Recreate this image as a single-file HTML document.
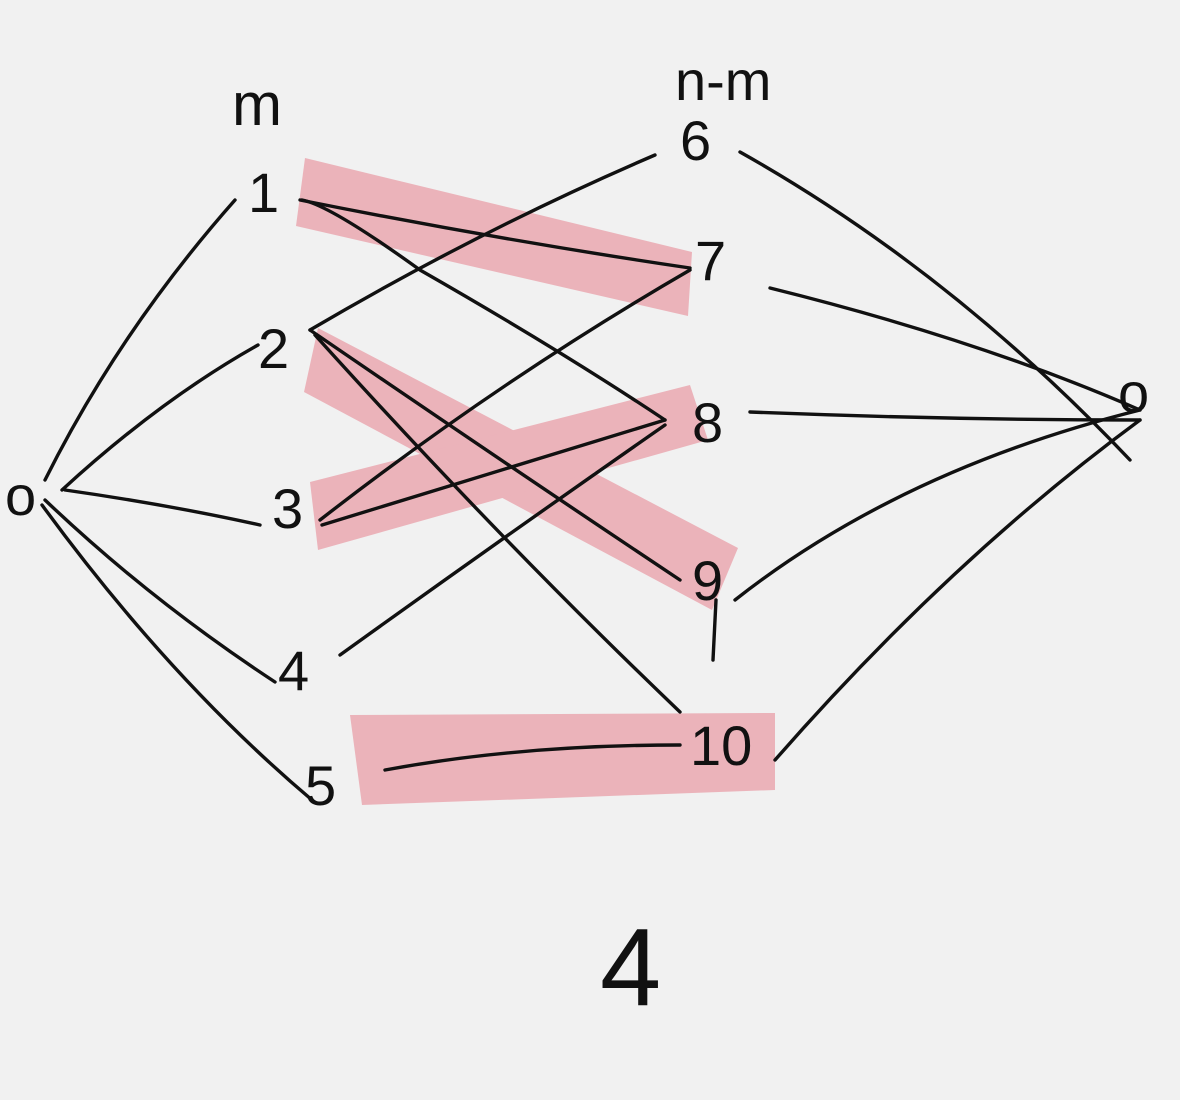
<!DOCTYPE html>
<html><head><meta charset="utf-8"><style>
html,body{margin:0;padding:0;background:#f1f1f1;}
svg{display:block}
text{font-family:"Liberation Sans","DejaVu Sans",sans-serif;fill:#111;font-weight:300}
</style></head><body>
<svg width="1180" height="1100" viewBox="0 0 1180 1100" xmlns="http://www.w3.org/2000/svg">
<rect width="1180" height="1100" fill="#f1f1f1"/>
<g fill="#e88a96" opacity="0.6">
<polygon points="305,158 692,252 688,316 296,226"/>
<polygon points="318,328 738,548 712,610 304,392"/>
<polygon points="310,482 690,385 708,440 318,550"/>
<polygon points="350,715 775,713 775,790 362,805"/>
</g>
<g fill="none" stroke="#111" stroke-width="3.4" stroke-linecap="round">
<path d="M45,480 Q120,330 235,200"/>
<path d="M62,490 Q160,400 258,345"/>
<path d="M65,490 Q170,505 260,525"/>
<path d="M45,500 Q150,600 275,682"/>
<path d="M42,505 Q170,680 312,800"/>
<path d="M300,200 Q500,240 690,268"/>
<path d="M302,200 Q330,205 420,270 Q560,350 665,420"/>
<path d="M310,330 Q480,230 655,155"/>
<path d="M310,330 Q500,460 680,580"/>
<path d="M315,335 Q500,540 680,712"/>
<path d="M320,520 Q500,380 690,270"/>
<path d="M322,525 Q500,470 665,420"/>
<path d="M340,655 Q500,540 665,425"/>
<path d="M385,770 Q520,745 680,745"/>
<path d="M740,152 Q950,270 1130,460"/>
<path d="M770,288 Q980,340 1140,410"/>
<path d="M750,412 Q950,420 1140,420"/>
<path d="M735,600 Q900,470 1140,410"/>
<path d="M716,600 L713,660"/>
<path d="M775,760 Q950,560 1140,420"/>
</g>
<g font-size="56">
<text x="232" y="125" font-size="60">m</text>
<text x="675" y="100" font-size="56">n-m</text>
<text x="248" y="212">1</text>
<text x="258" y="368">2</text>
<text x="272" y="528">3</text>
<text x="278" y="690">4</text>
<text x="305" y="805">5</text>
<text x="5" y="515">o</text>
<text x="680" y="160">6</text>
<text x="695" y="280">7</text>
<text x="692" y="442">8</text>
<text x="692" y="600">9</text>
<text x="690" y="765">10</text>
<text x="1118" y="412">o</text>
<text x="600" y="1005" font-size="110" font-weight="100">4</text>
</g>
</svg>
</body></html>
